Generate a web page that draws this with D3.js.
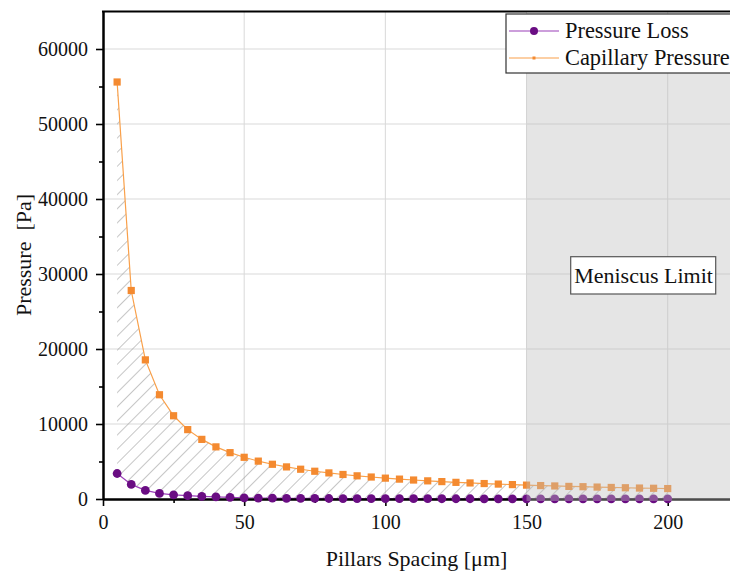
<!DOCTYPE html>
<html>
<head>
<meta charset="utf-8">
<script src="https://cdn.jsdelivr.net/npm/d3@7"></script>
<style>
  html, body { margin: 0; padding: 0; background: #fff; }
  svg { display: block; }
  text { font-family: "Liberation Serif", "Times New Roman", serif; fill: #111; }
</style>
</head>
<body>
<svg id="chart" width="730" height="572"></svg>
<script>
// ---- data ----
const spacing = [5,10,15,20,25,30,35,40,45,50,55,60,65,70,75,80,85,90,95,100,
                 105,110,115,120,125,130,135,140,145,150,155,160,165,170,175,180,185,190,195,200];
const capillaryPressure = [55600,27800,18550,13900,11100,9250,7950,6950,6180,5560,
                           5050,4630,4280,3970,3700,3480,3270,3090,2930,2780,
                           2650,2530,2420,2320,2220,2140,2060,1990,1920,1850,
                           1790,1740,1680,1640,1590,1540,1500,1460,1430,1390];
const pressureLoss = [3400,1950,1150,750,560,440,350,290,220,160,
                      130,110,95,85,75,68,62,56,52,48,
                      44,41,38,36,34,32,30,28,27,26,
                      25,24,23,22,21,20,19,18,17,16];
const xTicks = [0,50,100,150,200];
const xMinorTicks = [25,75,125,175,225];
const yTicks = [0,10000,20000,30000,40000,50000,60000];
const yMinorTicks = [5000,15000,25000,35000,45000,55000];
const seriesNames = ["Pressure Loss", "Capillary Pressure"];
const meniscusStart = 150;
const meniscusLabel = "Meniscus Limit";
const xTitle = "Pillars Spacing [\u03bcm]";
const yTitle = "Pressure  [Pa]";

// ---- scales ----
const svg = d3.select("#chart");
const x = d3.scaleLinear().domain([0, 225]).range([103, 738.3]);
const y = d3.scaleLinear().domain([0, 65000]).range([499, 11.5]);

const purple = "#6a0d83", purpleLine = "#9a3fb8";
const orange = "#f48a30", orangeLine = "#f9a04a";

const defs = svg.append("defs");
const hatch = defs.append("pattern").attr("id", "hatch")
  .attr("patternUnits", "userSpaceOnUse").attr("width", 10).attr("height", 10)
  .attr("patternTransform", "rotate(45)");
hatch.append("line").attr("x1", 0).attr("y1", 0).attr("x2", 0).attr("y2", 10)
  .attr("stroke", "#a0a0a0").attr("stroke-width", 1.2);

// ---- grid ----
const grid = svg.append("g");
grid.selectAll(".gx").data(xTicks.filter(d => d > 0)).join("line")
  .attr("x1", d => x(d)).attr("x2", d => x(d))
  .attr("y1", y(65000)).attr("y2", y(0))
  .attr("stroke", "#d9d9d9").attr("stroke-width", 1);
grid.selectAll(".gy").data(yTicks.filter(d => d > 0)).join("line")
  .attr("x1", x(0)).attr("x2", x(225))
  .attr("y1", d => y(d)).attr("y2", d => y(d))
  .attr("stroke", "#d9d9d9").attr("stroke-width", 1);

// ---- hatched area between curves ----
const rows = spacing.map((s, i) => ({s, cap: capillaryPressure[i], loss: pressureLoss[i]}));
svg.append("path").datum(rows)
  .attr("d", d3.area().x(d => x(d.s)).y0(d => y(d.loss)).y1(d => y(d.cap)))
  .attr("fill", "url(#hatch)");

// ---- lines ----
svg.append("path").datum(rows)
  .attr("d", d3.line().x(d => x(d.s)).y(d => y(d.cap)))
  .attr("fill", "none").attr("stroke", orangeLine).attr("stroke-width", 1.2);
svg.append("path").datum(rows)
  .attr("d", d3.line().x(d => x(d.s)).y(d => y(d.loss)))
  .attr("fill", "none").attr("stroke", purpleLine).attr("stroke-width", 1.2);

// ---- markers ----
svg.append("g").selectAll("rect").data(rows).join("rect")
  .attr("x", d => x(d.s) - 3.6).attr("y", d => y(d.cap) - 3.6)
  .attr("width", 7.2).attr("height", 7.2).attr("fill", orange);

// ---- axes ----
const axX = svg.append("g").attr("transform", `translate(0,${y(0)})`)
  .call(d3.axisBottom(x).tickValues(xTicks).tickSize(7).tickSizeOuter(0).tickPadding(9));
const axXm = svg.append("g").attr("transform", `translate(0,${y(0)})`)
  .call(d3.axisBottom(x).tickValues(xMinorTicks).tickSize(4).tickSizeOuter(0).tickFormat(""));
const axY = svg.append("g").attr("transform", `translate(${x(0)},0)`)
  .call(d3.axisLeft(y).tickValues(yTicks).tickSize(7).tickSizeOuter(0).tickPadding(8).tickFormat(d3.format("d")));
const axYm = svg.append("g").attr("transform", `translate(${x(0)},0)`)
  .call(d3.axisLeft(y).tickValues(yMinorTicks).tickSize(4).tickSizeOuter(0).tickFormat(""));
[axX, axXm, axY, axYm].forEach(a => {
  a.selectAll("path").attr("stroke", "#000").attr("stroke-width", 2);
  a.selectAll("line").attr("stroke", "#000").attr("stroke-width", 1.6);
  a.selectAll("text").attr("font-family", "Liberation Serif, serif").attr("font-size", 20).attr("fill", "#111");
});
axX.selectAll("text").attr("dy", "0.71em");

// purple markers drawn after axis (they sit on the axis line)
svg.append("g").selectAll("circle").data(rows).join("circle")
  .attr("cx", d => x(d.s)).attr("cy", d => y(d.loss))
  .attr("r", 4.4).attr("fill", purple);

// top frame
svg.append("line").attr("x1", x(0) - 1).attr("x2", x(225)).attr("y1", y(65000)).attr("y2", y(65000))
  .attr("stroke", "#000").attr("stroke-width", 2);

// ---- meniscus overlay ----
svg.append("rect")
  .attr("x", x(meniscusStart)).attr("y", y(65000) + 1)
  .attr("width", x(225) - x(meniscusStart)).attr("height", y(0) - y(65000) + 1)
  .attr("fill", "#bdbdbd").attr("fill-opacity", 0.4);

svg.append("rect").attr("x", 570.7).attr("y", 256.7).attr("width", 145).attr("height", 37.3)
  .attr("fill", "#fff").attr("stroke", "#555").attr("stroke-width", 1.2);
svg.append("text").attr("x", 643.5).attr("y", 283).attr("text-anchor", "middle")
  .attr("font-size", 22).text(meniscusLabel);

// ---- legend ----
const lg = svg.append("g");
lg.append("rect").attr("x", 506).attr("y", 14).attr("width", 240).attr("height", 59)
  .attr("fill", "#fff").attr("stroke", "#333").attr("stroke-width", 1.2);
const items = [
  {name: seriesNames[0], line: purpleLine, mark: purple, type: "circle", cy: 31},
  {name: seriesNames[1], line: orangeLine, mark: orange, type: "square", cy: 58}
];
items.forEach(it => {
  lg.append("line").attr("x1", 509).attr("x2", 559).attr("y1", it.cy).attr("y2", it.cy)
    .attr("stroke", it.line).attr("stroke-width", 1.2);
  if (it.type === "circle") {
    lg.append("circle").attr("cx", 534).attr("cy", it.cy).attr("r", 4).attr("fill", it.mark);
  } else {
    lg.append("rect").attr("x", 532.5).attr("y", it.cy - 1.5).attr("width", 3).attr("height", 3).attr("fill", it.mark);
  }
  lg.append("text").attr("x", 565).attr("y", it.cy + 7).attr("font-size", 22.4).text(it.name);
});

// ---- axis titles ----
svg.append("text").attr("x", 416.5).attr("y", 566).attr("text-anchor", "middle")
  .attr("font-size", 22).text(xTitle);
svg.append("text").attr("transform", "translate(31,255) rotate(-90)")
  .attr("text-anchor", "middle").attr("font-size", 22).style("white-space", "pre").text(yTitle);
</script>
</body>
</html>
